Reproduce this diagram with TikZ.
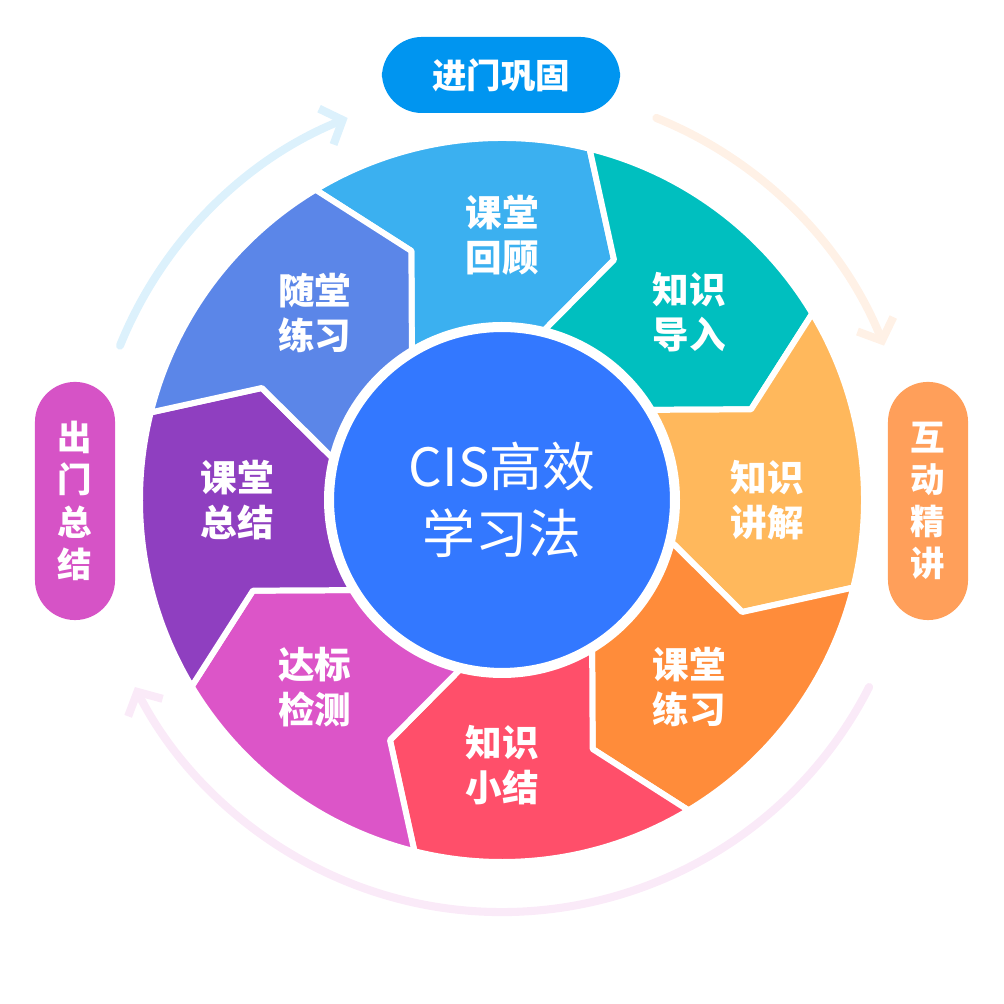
\documentclass[tikz,border=0pt]{standalone}
\usepackage{fontspec}
\setmainfont{Noto Sans CJK SC}
\usetikzlibrary{arrows.meta,calc}
\definecolor{cA}{HTML}{3BB0F0}
\definecolor{cB}{HTML}{00BFBF}
\definecolor{cC}{HTML}{FFB85C}
\definecolor{cD}{HTML}{FF8C3A}
\definecolor{cE}{HTML}{FF4F6A}
\definecolor{cF}{HTML}{DC55C8}
\definecolor{cG}{HTML}{8F3FC0}
\definecolor{cH}{HTML}{5B86E8}
\definecolor{hub}{HTML}{3378FF}
\definecolor{pillT}{HTML}{0095F0}
\definecolor{pillR}{HTML}{FF9F5A}
\definecolor{pillL}{HTML}{D653C6}
\tikzset{
  seglabel/.style={text=white, font=\bfseries\fontsize{10.4pt}{12.8pt}\selectfont, align=center},
  pill/.style={rounded corners=0.4cm, text=white, font=\bfseries\fontsize{9.8pt}{12pt}\selectfont, align=center, inner sep=0pt},
  ring/.style={line width=2.3pt, line cap=round, -{Straight Barb[length=5pt,width=11pt]}}
}
\begin{document}
\begin{tikzpicture}[x=0.01cm,y=0.01cm]
\useasboundingbox (0,0) rectangle (1004,1004);
\coordinate (c) at (502,504);
% segments
\foreach \j/\col in {0/cA,1/cB,2/cC,3/cD,4/cE,5/cF,6/cG,7/cH}{
  \pgfmathsetmacro\a{121-45*\j}
  \pgfmathsetmacro\b{76-45*\j}
  \fill[\col, draw=white, line width=1.7pt, line join=round]
    ($(c)+(\a:362)$) arc[start angle=\a, end angle=\b, radius=362]
    -- ($(c)+(\b-11:265)$) -- ($(c)+(\b:175)$)
    arc[start angle=\b, end angle=\a, radius=175]
    -- ($(c)+(\a-11:265)$) -- cycle;
}
\fill[hub, draw=white, line width=2.3pt] (c) circle[radius=172];
\node[text=white, font=\fontsize{15pt}{19pt}\selectfont, align=center] (hubtext) at (c) {CIS高效\\学习法};
% segment labels
\foreach \j/\txt in {0/课堂\\回顾,1/知识\\导入,2/知识\\讲解,3/课堂\\练习,4/知识\\小结,5/达标\\检测,6/课堂\\总结,7/随堂\\练习}{
  \node[seglabel] (lab\j) at ($(c)+(90-45*\j:265)$) {\txt};
}
% pills
\node[pill, fill=pillT, minimum width=2.38cm, minimum height=0.76cm] (enter) at (501,929) {进门巩固};
\node[pill, fill=pillR, minimum width=0.8cm, minimum height=2.38cm] (inter) at (928,503) {互\\动\\精\\讲};
\node[pill, fill=pillL, minimum width=0.8cm, minimum height=2.38cm] (leave) at (75,503) {出\\门\\总\\结};
% outer arcs
\draw[ring, draw=cA!18] ($(c)+(158:412)$) arc[start angle=158, end angle=112, radius=412];
\draw[ring, draw=pillR!15] ($(c)+(68:412)$) arc[start angle=68, end angle=22, radius=412];
\draw[ring, draw=pillL!12] ($(c)+(-27:412)$) arc[start angle=-27, end angle=-153, radius=412];
\end{tikzpicture}
\end{document}
